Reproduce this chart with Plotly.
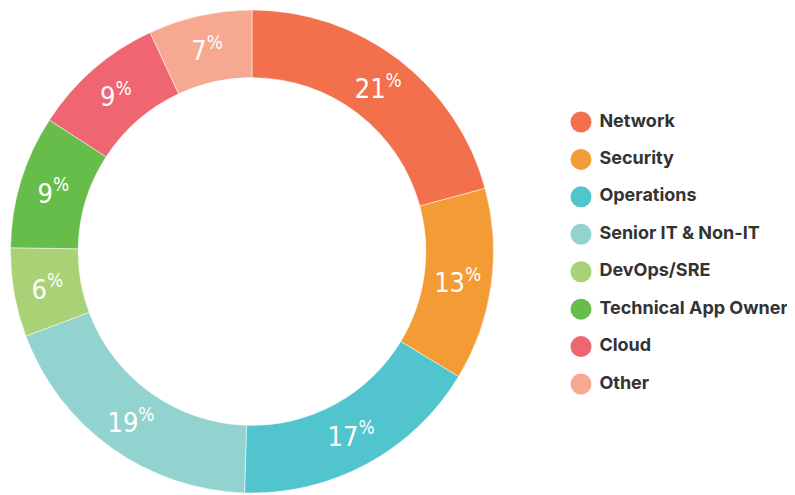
import plotly.graph_objects as go

# slice data
roles = ["Network", "Security", "Operations", "Senior IT & Non-IT",
         "DevOps/SRE", "Technical App Owner", "Cloud", "Other"]
shares = [21, 13, 17, 19, 6, 9, 9, 7]
colors = ["#F3704C", "#F39B35", "#51C4CD", "#92D3CF",
          "#A9D276", "#66BD4A", "#EF6672", "#F7A890"]

OFF = 8  # page body margin shifts the figure by this much
W, H = 795 - OFF, 495 - OFF


def px_x(v):
    return (v - OFF) / W


def px_y(v):
    return 1 - (v - OFF) / H


fig = go.Figure()

fig.add_trace(go.Pie(
    labels=roles,
    values=shares,
    sort=False,
    direction="clockwise",
    rotation=0,
    hole=0.72,
    marker=dict(colors=colors, line=dict(color="white", width=0.5)),
    texttemplate="%{value}<sup>%</sup>",
    textposition="inside",
    insidetextorientation="horizontal",
    textfont=dict(family="DejaVu Sans Condensed, Roboto", size=27,
                  color="white", weight=300),
    showlegend=False,
    domain=dict(x=[px_x(10), px_x(494)], y=[px_y(493), px_y(10)]),
))

# custom legend with round markers
fig.add_trace(go.Scatter(
    x=[0] * len(roles),
    y=list(range(len(roles))),
    mode="markers+text",
    marker=dict(color=colors, size=21),
    text=[" " + r for r in roles],
    textposition="middle right",
    textfont=dict(family="Inter", size=18, color="#333333", weight="bold"),
    cliponaxis=False,
    showlegend=False,
    hoverinfo="skip",
))

fig.update_xaxes(domain=[px_x(581), 1.0], range=[0, 1], visible=False, fixedrange=True)
fig.update_yaxes(domain=[px_y(384), px_y(122)],
                 range=[len(roles) - 1, 0], visible=False, fixedrange=True)

fig.update_layout(
    width=W, height=H,
    margin=dict(l=0, r=0, t=0, b=0),
    paper_bgcolor="white",
    plot_bgcolor="white",
)

fig.write_html("out.html")
